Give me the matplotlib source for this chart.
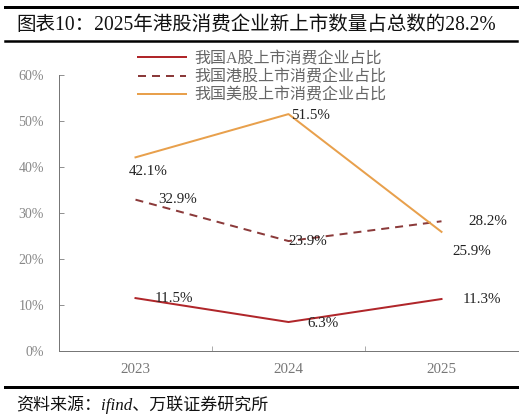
import matplotlib
matplotlib.use("Agg")
import matplotlib.pyplot as plt
from matplotlib.lines import Line2D

years = ["2023", "2024", "2025"]
a_share = [11.5, 6.3, 11.3]
hk_share = [32.9, 23.9, 28.2]
us_share = [42.1, 51.5, 25.9]
names = ["我国A股上市消费企业占比", "我国港股上市消费企业占比", "我国美股上市消费企业占比"]
# label offsets in pixels (dx, dy) for each point
off_a = [(38, 0), (34, -1), (40, 0)]
off_hk = [(42, 0), (19, 0), (46, 0)]
off_us = [(13, -14), (22, -1), (30, -20)]

fam = ["Liberation Serif", "Noto Sans CJK SC"]
plt.rcParams["font.family"] = fam

W, H = 532, 419
fig = plt.figure(figsize=(W / 72, H / 72), dpi=72, facecolor="white")
ax = fig.add_axes([59 / W, 1 - 351 / H, (518 - 59) / W, (351 - 75) / H])

x = list(range(len(years)))
ax.plot(x, a_share, color="#B0262A", lw=2, label=names[0])
ax.plot(x, hk_share, color="#8B3A3A", lw=2, ls=(0, (4, 3)), label=names[1])
ax.plot(x, us_share, color="#E8A04C", lw=2, label=names[2])

for vals, offs in [(a_share, off_a), (hk_share, off_hk), (us_share, off_us)]:
    for xi, v, (dx, dy) in zip(x, vals, offs):
        ax.annotate(f"{v:.1f}%", (xi, v), xytext=(dx, dy), textcoords="offset points",
                    ha="center", va="center", fontsize=15, color="#222222")

ax.set_xlim(-0.5, 2.5)
ax.set_ylim(0, 60)
ax.set_yticks(range(0, 61, 10))
ax.set_yticklabels([f"{t}%" for t in range(0, 61, 10)])
ax.set_xticks(x)
ax.set_xticklabels(years)
ax.set_xticks([0.5, 1.5], minor=True)
ax.tick_params(axis="x", which="major", length=0, pad=12, labelsize=15, labelcolor="#777777")
ax.tick_params(axis="x", which="minor", length=5, direction="in", color="#777777")
ax.tick_params(axis="y", length=5, direction="in", pad=15, labelsize=14, labelcolor="#888888", color="#777777")
for s in ["top", "right"]:
    ax.spines[s].set_visible(False)
for s in ["left", "bottom"]:
    ax.spines[s].set_color("#777777")
    ax.spines[s].set_linewidth(1)

leg = ax.legend(loc="upper left", bbox_to_anchor=(138 / W, 1 - 51 / H), bbox_transform=fig.transFigure,
                frameon=False, fontsize=16, handlelength=3.0, handletextpad=0.5,
                labelspacing=0.15, borderpad=0, borderaxespad=0)
for t in leg.get_texts():
    t.set_color("#666666")

# header / footer rules
for yy, lw in [(6.5, 3), (41, 2.5), (387, 3)]:
    fig.add_artist(Line2D([5 / W, 517 / W], [1 - yy / H, 1 - yy / H], color="black", lw=lw))

fig.text(16 / W, 1 - 25 / H, "图表10：2025年港股消费企业新上市数量占总数的28.2%",
         fontsize=19.5, va="center", ha="left", color="#111111")
fig.text(16 / W, 1 - 405 / H, "资料来源：ifind、万联证券研究所",
         fontsize=17, va="center", ha="left", style="italic", color="#111111")

fig.savefig("out.png", dpi=72, facecolor="white")
